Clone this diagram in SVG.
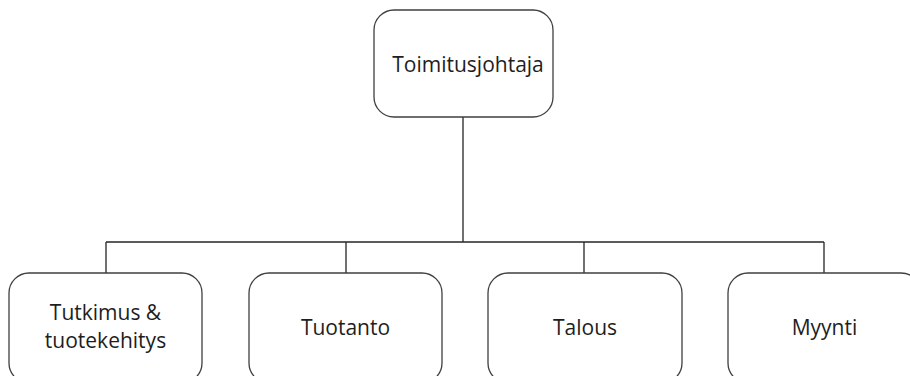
<svg xmlns="http://www.w3.org/2000/svg" width="910" height="376" viewBox="0 0 910 376">
<style>
.box{fill:#fff;stroke:#3f3f3f;stroke-width:1.3}
.ln{fill:none;stroke:#262626;stroke-width:1.3}
text{font-family:"Open Sans","Liberation Sans",sans-serif;font-size:21px;fill:#1e1e1e;text-anchor:middle}
</style>
<rect width="910" height="376" fill="#fff"/>
<g id="connectors">
<path class="ln" d="M463 117V242M106 242H824M106 242V273M346 242V273M584 242V273M824 242V273"/>
</g>
<g id="ceo"><rect class="box" x="374" y="10" width="179" height="107" rx="20"/><text x="468" y="72">Toimitusjohtaja</text></g>
<g id="rd"><rect class="box" x="9" y="273" width="193" height="110" rx="20"/><text x="105.5" y="320">Tutkimus &amp;</text><text x="105.5" y="348">tuotekehitys</text></g>
<g id="prod"><rect class="box" x="249" y="273" width="193" height="110" rx="20"/><text x="345.5" y="335">Tuotanto</text></g>
<g id="fin"><rect class="box" x="488" y="273" width="194" height="110" rx="20"/><text x="585" y="335">Talous</text></g>
<g id="sales"><rect class="box" x="728" y="273" width="193" height="110" rx="20"/><text x="824.5" y="335">Myynti</text></g>
</svg>
